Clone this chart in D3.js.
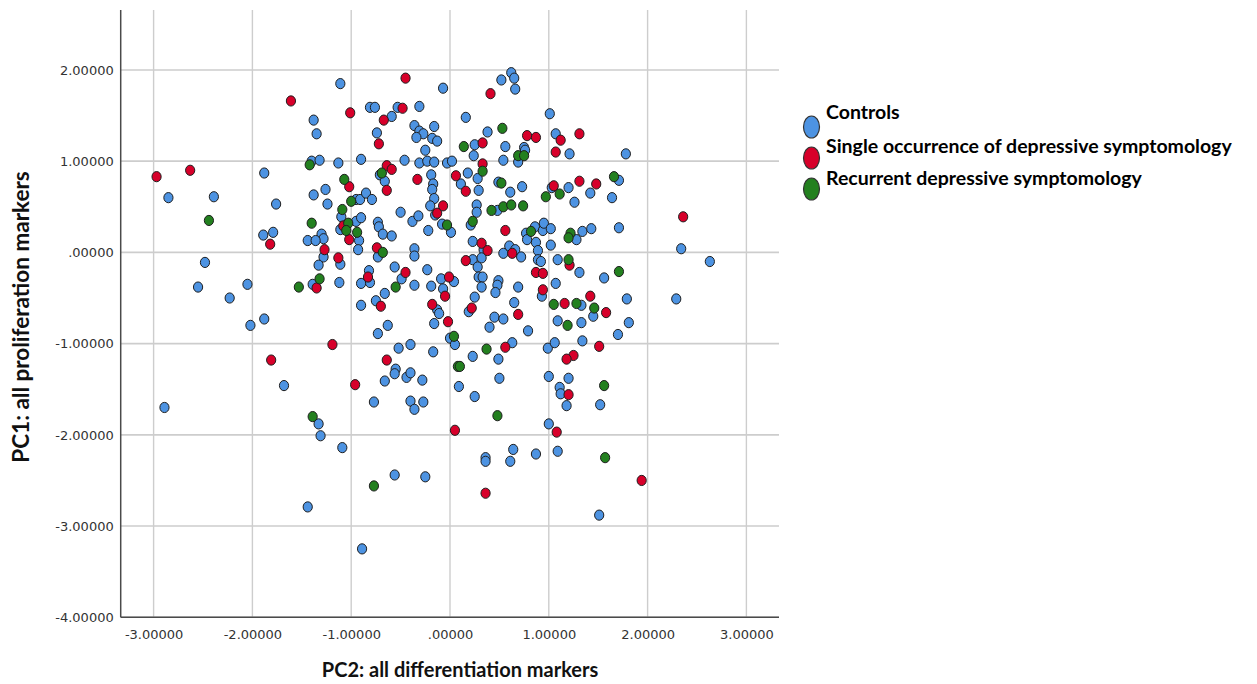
<!DOCTYPE html>
<html>
<head>
<meta charset="utf-8">
<script src="https://cdnjs.cloudflare.com/ajax/libs/d3/7.8.5/d3.min.js"></script>
<style>
  body { margin: 0; background: #fff; }
  svg { display: block; }
  .tick text { font-family: "DejaVu Sans", sans-serif; font-size: 13px; fill: #333; }
</style>
</head>
<body>
<svg width="1257" height="684"></svg>
<script>
// groups shown in the legend
var groups = ["Controls", "Single occurrence of depressive symptomology", "Recurrent depressive symptomology"];
var groupColors = ["#4d93e2", "#d7002a", "#23801f"];

// axis ticks
var xTicks = [-3, -2, -1, 0, 1, 2, 3];
var yTicks = [2, 1, 0, -1, -2, -3, -4];

// [PC2, PC1] per participant
var controls = [
  [-2.85, 0.60], [-2.39, 0.61], [-1.88, 0.87], [-1.76, 0.53], [-1.89, 0.19], [-1.79, 0.22],
  [-2.48, -0.11], [-2.55, -0.38], [-2.23, -0.50], [-2.05, -0.35], [-2.02, -0.80], [-1.88, -0.73],
  [-1.68, -1.46], [-2.89, -1.70], [-1.44, -2.79], [-0.89, -3.25], [-1.09, -2.14], [-1.33, -1.88],
  [-1.31, -2.01], [-0.56, -2.44], [-0.25, -2.46], [-0.77, -1.64], [-0.66, -1.41], [-0.55, -1.28],
  [-0.56, -1.33], [-0.44, -1.37], [-0.40, -1.32], [-0.28, -1.40], [-0.40, -1.63], [-0.36, -1.72],
  [-0.27, -1.64], [-0.73, -0.89], [-0.52, -1.05], [-0.40, -1.01], [-0.17, -1.09],
  [-1.11, 1.85], [-1.38, 1.45], [-1.35, 1.30], [-0.81, 1.59], [-0.76, 1.59], [-0.59, 1.49],
  [-0.53, 1.59], [-0.74, 1.31], [-0.31, 1.60], [-0.36, 1.39], [-0.31, 1.33], [-0.27, 1.30],
  [-0.16, 1.38], [-0.34, 1.26], [-0.18, 1.25], [-0.13, 1.22], [-0.25, 1.12], [-0.07, 1.80],
  [-1.40, 1.00], [-1.32, 1.01], [-1.13, 0.98], [-0.90, 1.02], [-0.46, 1.01], [-0.31, 0.98],
  [-0.23, 1.00], [-0.16, 0.99], [-0.03, 0.98], [0.02, 1.00], [-0.71, 0.85], [-0.66, 0.78],
  [-1.38, 0.63], [-1.26, 0.69], [-1.24, 0.53], [-0.95, 0.58], [-0.91, 0.58], [-0.85, 0.65],
  [-0.79, 0.58], [-0.50, 0.44], [-0.38, 0.34], [-0.32, 0.40], [-1.10, 0.39], [-0.95, 0.34],
  [-0.90, 0.38], [-1.11, 0.25], [-0.73, 0.33], [-0.72, 0.28], [-0.68, 0.20], [-0.59, 0.18],
  [-1.30, 0.20], [-1.28, 0.15], [-1.44, 0.13], [-1.36, 0.13], [-0.92, 0.13], [-0.93, 0.03],
  [-1.28, -0.05], [-0.73, -0.05], [-0.36, 0.04], [-0.36, -0.04], [-1.11, -0.13], [-1.33, -0.14],
  [-0.56, -0.16], [-0.49, -0.29], [-0.82, -0.20], [-0.81, -0.33], [-0.90, -0.34], [-1.12, -0.33],
  [-1.39, -0.35], [-0.36, -0.36], [-0.66, -0.45], [-0.90, -0.58], [-0.75, -0.53], [-0.63, -0.80],
  [0.16, 1.48], [0.52, 1.89], [0.62, 1.97], [0.65, 1.91], [0.66, 1.79], [1.01, 1.52],
  [0.38, 1.32], [1.07, 1.30], [0.25, 1.18], [0.56, 1.16], [0.75, 1.15], [0.76, 1.12],
  [1.21, 1.08], [1.78, 1.08], [0.24, 1.06], [0.69, 0.99], [0.54, 1.01], [0.18, 0.87],
  [0.28, 0.81], [0.29, 0.68], [0.11, 0.75], [-0.19, 0.85], [-0.17, 0.75], [-0.18, 0.69],
  [-0.16, 0.59], [-0.20, 0.51], [-0.15, 0.41], [-0.22, 0.24], [-0.08, 0.31], [0.01, 0.22],
  [0.27, 0.52], [0.27, 0.44], [0.21, 0.30], [0.49, 0.77], [0.61, 0.66], [0.73, 0.72],
  [0.48, 0.46], [1.20, 0.71], [1.03, 0.71], [1.26, 0.55], [1.42, 0.65], [1.64, 0.60],
  [1.71, 0.79], [0.77, 0.21], [0.78, 0.14], [0.86, 0.28], [0.94, 0.24], [0.95, 0.32],
  [1.02, 0.26], [0.87, 0.11], [0.89, 0.02], [1.02, 0.08], [1.28, 0.14], [1.34, 0.23],
  [1.43, 0.26], [1.71, 0.27], [0.23, 0.12], [0.23, -0.08], [0.34, 0.03], [0.32, -0.06],
  [0.28, -0.16], [0.29, -0.27], [0.33, -0.27], [0.32, -0.38], [0.25, -0.49], [-0.23, -0.19],
  [-0.19, -0.37], [-0.09, -0.29], [-0.07, -0.40], [0.04, -0.32], [-0.13, -0.63], [-0.11, -0.67],
  [-0.16, -0.78], [0.00, -0.94], [0.05, -1.01], [0.19, -0.65], [0.54, -0.01], [0.60, 0.07],
  [0.66, 0.03], [0.72, -0.05], [0.89, -0.08], [0.92, -0.10], [1.09, -0.08], [1.31, -0.22],
  [1.56, -0.28], [1.07, -0.34], [0.49, -0.31], [0.48, -0.36], [0.46, -0.44], [0.69, -0.38],
  [0.93, -0.48], [0.65, -0.55], [0.45, -0.71], [0.54, -0.73], [0.40, -0.82], [0.79, -0.86],
  [1.33, -0.58], [1.45, -0.70], [1.79, -0.51], [1.09, -0.75], [1.33, -0.77], [1.81, -0.77],
  [1.70, -0.90], [1.34, -0.97], [0.99, -1.05], [1.06, -0.99], [0.63, -0.99], [0.23, -1.14],
  [0.49, -1.17], [0.09, -1.47], [0.25, -1.58], [0.50, -1.38], [1.00, -1.36], [1.20, -1.38],
  [1.11, -1.48], [1.12, -1.55], [1.18, -1.68], [1.52, -1.67], [1.00, -1.88], [0.64, -2.16],
  [0.36, -2.25], [0.36, -2.29], [0.61, -2.29], [0.87, -2.21], [1.09, -2.18], [1.51, -2.88],
  [2.34, 0.04], [2.63, -0.10], [2.29, -0.51]
];

var singleOccurrence = [
  [-2.97, 0.83], [-2.63, 0.90], [-1.82, 0.09], [-1.61, 1.66], [-0.45, 1.91], [-1.01, 1.53],
  [-0.67, 1.45], [-0.48, 1.58], [-0.72, 1.19], [-0.64, 0.95], [-0.59, 0.91], [-0.64, 0.68],
  [-0.33, 0.80], [-1.02, 0.72], [-1.08, 0.29], [-1.02, 0.14], [-1.27, 0.03], [-1.13, -0.06],
  [-0.74, 0.05], [-0.45, -0.22], [-0.83, -0.27], [-1.35, -0.39], [-0.70, -0.59], [-1.19, -1.01],
  [-1.81, -1.18], [-0.96, -1.45], [-0.64, -1.18], [-0.13, 0.43], [-0.07, 0.51], [0.06, 0.84],
  [0.41, 1.74], [0.78, 1.28], [0.87, 1.26], [1.12, 1.23], [1.31, 1.30], [0.33, 1.20],
  [1.07, 1.10], [0.33, 0.97], [0.16, 0.67], [1.05, 0.73], [1.31, 0.78], [1.48, 0.75],
  [0.56, 0.24], [0.32, 0.10], [0.38, 0.02], [0.63, -0.01], [0.16, -0.09], [-0.01, -0.27],
  [-0.05, -0.48], [-0.18, -0.57], [-0.02, -0.76], [0.22, -0.61], [0.69, -0.68], [0.87, -0.22],
  [0.94, -0.23], [1.21, -0.14], [0.94, -0.41], [1.42, -0.48], [1.16, -0.56], [1.58, -0.66],
  [1.51, -1.03], [1.25, -1.13], [1.18, -1.17], [0.56, -1.04], [0.05, -1.95], [1.20, -1.56],
  [1.08, -1.97], [0.36, -2.64], [1.94, -2.50], [2.36, 0.39]
];

var recurrent = [
  [-2.44, 0.35], [-1.42, 0.96], [-0.69, 0.87], [-1.07, 0.80], [-1.00, 0.56], [-1.09, 0.47],
  [-1.40, 0.32], [-1.03, 0.32], [-1.05, 0.24], [-0.94, 0.22], [-0.68, 0.00], [-1.32, -0.29],
  [-1.53, -0.38], [-0.55, -0.38], [-1.39, -1.80], [-0.77, -2.56], [0.53, 1.36], [0.14, 1.16],
  [0.69, 1.06], [0.75, 1.06], [0.33, 0.89], [0.52, 0.76], [0.42, 0.46], [0.54, 0.50],
  [0.62, 0.52], [0.74, 0.51], [-0.03, 0.30], [0.23, 0.34], [0.82, 0.23], [1.22, 0.21],
  [1.20, 0.16], [0.97, 0.61], [1.11, 0.64], [1.66, 0.83], [1.20, -0.08], [1.71, -0.21],
  [1.05, -0.57], [1.28, -0.56], [1.46, -0.61], [1.19, -0.80], [0.04, -0.92], [0.37, -1.06],
  [0.08, -1.25], [0.10, -1.25], [0.48, -1.79], [1.56, -1.46], [1.57, -2.25]
];

var series = [controls, singleOccurrence, recurrent];

var svg = d3.select("svg"),
    plotLeft = 120.7, plotRight = 779, plotTop = 10, plotBottom = 617.3;

var x = d3.scaleLinear().domain([-3.333, 3.33]).range([plotLeft, plotRight]);
var y = d3.scaleLinear().domain([-4, 2.657]).range([plotBottom, plotTop]);

var fmt = function (d) {
    var s = d.toFixed(5);
    if (s == "0.00000") s = ".00000";
    return s;
};

// grid
svg.append("g").selectAll("line")
    .data(xTicks)
    .enter().append("line")
    .attr("x1", function (d) { return x(d); })
    .attr("x2", function (d) { return x(d); })
    .attr("y1", plotTop)
    .attr("y2", plotBottom)
    .attr("stroke", "#cdcdcd")
    .attr("stroke-width", 1.4);

svg.append("g").selectAll("line")
    .data(yTicks)
    .enter().append("line")
    .attr("x1", plotLeft)
    .attr("x2", plotRight)
    .attr("y1", function (d) { return y(d); })
    .attr("y2", function (d) { return y(d); })
    .attr("stroke", "#cdcdcd")
    .attr("stroke-width", 1.6);

// axes, labels only
var xAxis = svg.append("g")
    .attr("transform", "translate(0," + plotBottom + ")")
    .call(d3.axisBottom(x).tickValues(xTicks).tickSize(0).tickPadding(12).tickFormat(fmt));
xAxis.select(".domain").remove();

var yAxis = svg.append("g")
    .attr("transform", "translate(" + plotLeft + ",0)")
    .call(d3.axisLeft(y).tickValues(yTicks).tickSize(0).tickPadding(7).tickFormat(fmt));
yAxis.select(".domain").remove();

svg.append("line")
    .attr("x1", plotLeft).attr("x2", plotLeft)
    .attr("y1", plotTop).attr("y2", plotBottom)
    .attr("stroke", "#4a4a4a").attr("stroke-width", 1.5);
svg.append("line")
    .attr("x1", plotLeft).attr("x2", plotRight)
    .attr("y1", plotBottom).attr("y2", plotBottom)
    .attr("stroke", "#4a4a4a").attr("stroke-width", 1.5);

// points
series.forEach(function (pts, i) {
    svg.append("g").selectAll("ellipse")
        .data(pts)
        .enter().append("ellipse")
        .attr("cx", function (d) { return x(d[0]); })
        .attr("cy", function (d) { return y(d[1]); })
        .attr("rx", 4.6)
        .attr("ry", 5.1)
        .attr("fill", groupColors[i])
        .attr("stroke", "#1e1e1e")
        .attr("stroke-width", 1);
});

// axis titles
svg.append("text")
    .attr("x", 460)
    .attr("y", 677)
    .attr("text-anchor", "middle")
    .attr("font-family", "Lato, sans-serif")
    .attr("font-weight", "bold")
    .attr("font-size", 20)
    .attr("fill", "#111")
    .text("PC2: all differentiation markers");

svg.append("text")
    .attr("transform", "translate(29,317) rotate(-90)")
    .attr("text-anchor", "middle")
    .attr("font-family", "Lato, sans-serif")
    .attr("font-weight", "bold")
    .attr("font-size", 22.5)
    .attr("fill", "#111")
    .text("PC1: all proliferation markers");

// legend
var legendY = [127, 158, 189],
    legendTextY = [119, 153, 185];

var legend = svg.append("g")
    .selectAll("g")
    .data(groups)
    .enter().append("g");

legend.append("ellipse")
    .attr("cx", 811.5)
    .attr("cy", function (d, i) { return legendY[i]; })
    .attr("rx", 8)
    .attr("ry", 11)
    .attr("fill", function (d, i) { return groupColors[i]; })
    .attr("stroke", "#333")
    .attr("stroke-width", 1.2);

legend.append("text")
    .attr("x", 826)
    .attr("y", function (d, i) { return legendTextY[i]; })
    .attr("font-family", "Lato, sans-serif")
    .attr("font-weight", "bold")
    .attr("font-size", 19.5)
    .attr("fill", "#000")
    .text(function (d) { return d; });
</script>
</body>
</html>
